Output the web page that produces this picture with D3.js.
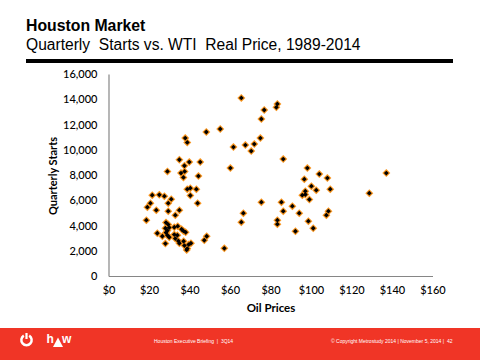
<!DOCTYPE html>
<html><head><meta charset="utf-8">
<script src="https://cdn.jsdelivr.net/npm/d3@7"></script>
<style>html,body{margin:0;padding:0;background:#fff}svg{display:block}</style>
</head><body><svg id="c" width="480" height="360"></svg>
<script>
const oilPrice=[29.1,35.0,37.5,39.9,45.3,60.2,35.8,37.6,37.0,44.4,38.9,40.4,43.4,40.4,44.0,21.6,25.1,27.6,31.0,29.5,20.7,19.2,23.6,29.5,35.0,33.0,18.7,66.6,65.6,28.4,29.5,28.1,30.0,32.5,34.2,36.1,37.0,38.1,29.1,28.4,24.1,26.6,29.1,30.0,28.1,32.5,34.0,33.0,34.5,37.1,35.0,37.5,39.6,40.7,38.9,38.6,48.5,47.3,57.2,65.6,76.9,83.4,82.9,75.5,75.0,67.6,72.0,61.7,70.5,86.3,98.2,104.1,108.1,96.7,100.2,102.6,109.5,97.2,95.7,97.2,99.2,128.8,137.2,75.5,85.4,90.8,86.3,94.2,108.6,107.6,83.4,83.4,98.7,101.1,92.3,37.9,38.9,48.3,55.2];
const quarterlyStarts=[8282,9208,8732,9023,9023,8547,8150,8282,7806,7911,6880,6959,6880,6377,5768,6403,6430,6324,6086,5768,5768,5451,5213,5133,5213,4816,4419,4975,4260,4234,4075,3784,3837,3863,3943,3704,3572,3466,3599,3440,3387,3149,3228,3069,2567,3281,3228,2964,2778,2752,2593,2408,2487,2593,2170,2064,3149,2831,2196,14103,13150,13627,13362,12436,10928,10372,10451,10213,9896,9261,8547,8070,7753,7673,7118,6800,6880,6721,6403,6456,6059,6562,8150,5848,5848,5530,5133,4975,5133,4816,4419,4101,4340,3784,3546,10928,10584,11404,11642];
const xTicks=[0,20,40,60,80,100,120,140,160];
const yTicks=[0,2000,4000,6000,8000,10000,12000,14000,16000];
const titleText="Houston Market";
const subtitleText="Quarterly  Starts vs. WTI  Real Price, 1989-2014";
const xAxisTitle="Oil Prices";
const yAxisTitle="Quarterly Starts";
const footerLeft="Houston Executive Briefing  |  3Q14";
const footerRight="© Copyright Metrostudy 2014 | November 5, 2014 |";
const pageNumber="42";

const svg=d3.select("#c");
const x=d3.scaleLinear().domain([0,160]).range([108.5,432.5]);
const y=d3.scaleLinear().domain([0,16000]).range([276,74]);
const tickFont="Lato, 'Open Sans', sans-serif";

svg.append("text").attr("x",26).attr("y",31).attr("font-family","Liberation Sans").attr("font-weight",700).attr("font-size",15.8).attr("fill","#000").text(titleText);
svg.append("text").attr("x",26).attr("y",50).attr("font-family","Liberation Sans").attr("font-size",15.6).attr("fill","#000").style("white-space","pre").text(subtitleText);
svg.append("rect").attr("x",26).attr("y",59).attr("width",427).attr("height",4).attr("fill","#000");

const gx=svg.append("g").attr("transform","translate(0,276)").call(d3.axisBottom(x).tickValues(xTicks).tickSize(0).tickPadding(10).tickFormat(d=>"$"+d));
const gy=svg.append("g").attr("transform","translate(108.5,0)").call(d3.axisLeft(y).tickValues(yTicks).tickSize(0).tickPadding(11).tickFormat(d3.format(",")));
[gx,gy].forEach(g=>{g.selectAll("text").attr("font-family",tickFont).attr("font-size",11).attr("font-weight",500).attr("fill","#000");g.select(".domain").attr("stroke","#868686").attr("stroke-width",1.2);});
gx.selectAll("text").attr("dy","0.71em");

const diamond=(cx,cy,r)=>`M${cx},${cy-r}L${cx+r},${cy}L${cx},${cy+r}L${cx-r},${cy}Z`;
const pts=d3.range(oilPrice.length);
svg.append("g").selectAll("path").data(pts).join("path").attr("d",i=>diamond(x(oilPrice[i]),y(quarterlyStarts[i]),4)).attr("fill","#f7941e");
svg.append("g").selectAll("path").data(pts).join("path").attr("d",i=>diamond(x(oilPrice[i]),y(quarterlyStarts[i]),2.4)).attr("fill","#000");

svg.append("text").attr("x",271).attr("y",312).attr("text-anchor","middle").attr("font-family",tickFont).attr("font-weight",700).attr("font-size",11.5).attr("fill","#000").text(xAxisTitle);
svg.append("text").attr("transform","translate(57,176) rotate(-90)").attr("text-anchor","middle").attr("font-family",tickFont).attr("font-weight",700).attr("font-size",11).attr("fill","#000").text(yAxisTitle);

svg.append("rect").attr("x",0).attr("y",328).attr("width",480).attr("height",32).attr("fill","#f03526");
const arc=d3.arc()({innerRadius:3.9,outerRadius:6.4,startAngle:0.55,endAngle:2*Math.PI-0.55});
svg.append("path").attr("transform","translate(26.5,340)").attr("d",arc).attr("fill","#fff");
svg.append("rect").attr("x",25.4).attr("y",333).attr("width",2.2).attr("height",6).attr("fill","#fff");
svg.append("text").attr("x",46.5).attr("y",343).attr("font-family","Liberation Sans").attr("font-weight",700).attr("font-size",12).attr("fill","#fff").text("h");
svg.append("text").attr("x",62).attr("y",343).attr("font-family","Liberation Sans").attr("font-weight",700).attr("font-size",12).attr("fill","#fff").text("w");
svg.append("path").attr("d","M53,347L58,337.5L63,347Z").attr("fill","#fff");

const foot=(xp,t)=>svg.append("text").attr("x",xp).attr("y",342.5).attr("font-family","Liberation Sans").attr("font-size",5).attr("fill","#fff").style("white-space","pre").text(t);
foot(154,footerLeft);
foot(331,footerRight);
foot(447,pageNumber);
</script></body></html>
